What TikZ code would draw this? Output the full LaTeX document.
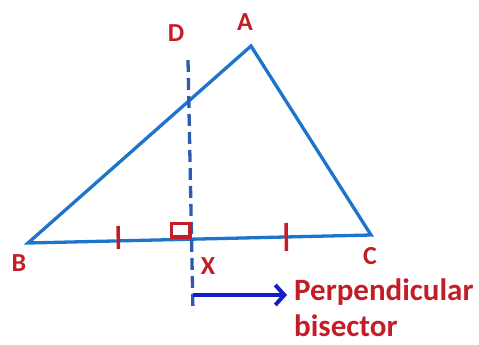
\documentclass[tikz,border=0pt]{standalone}
\usepackage{fontspec}
\setmainfont{Carlito}
\usetikzlibrary{arrows.meta}
\definecolor{triblue}{RGB}{30,115,205}
\definecolor{dashblue}{RGB}{45,90,180}
\definecolor{arrblue}{RGB}{20,30,200}
\definecolor{markred}{RGB}{195,30,40}
\begin{document}
\begin{tikzpicture}[x=1pt,y=-1pt,
  side/.style={draw=triblue,line width=3.3pt,line join=miter},
  bisline/.style={draw=dashblue,line width=3.3pt,dash pattern=on 12pt off 6pt},
  tickmark/.style={draw=markred,line width=3.5pt},
  lbl/.style={font=\bfseries\fontsize{26}{30}\selectfont,text=markred,inner sep=0pt},
  note/.style={font=\bfseries\fontsize{31}{36}\selectfont,text=markred,anchor=base west,inner sep=0pt},
  arr/.style={draw=arrblue,line width=4pt,-{Straight Barb[length=9pt,width=20pt,line width=4pt]}}]
  \useasboundingbox (0,0) rectangle (479,345);
  % triangle and foot of the bisector
  \coordinate (A) at (251,46);
  \coordinate (B) at (28,243);
  \coordinate (C) at (371,235);
  \coordinate (X) at (191.5,239.2);
  \coordinate (D) at (188,60);
  \coordinate (E) at (193,312);
  \coordinate (P) at (192.6,295);
  \draw[side] (B) -- (A) -- (C) -- cycle;
  \draw[bisline] (D) -- (E);
  % equal parts and right angle
  \draw[tickmark] (118,226) -- (118.5,249);
  \draw[tickmark] (286,223) -- (286.5,251);
  \draw[markred,line width=3.5pt] (171.5,223.5) rectangle (190,237);
  % labels
  \node[lbl] (lA) at (245,22) {A};
  \node[lbl] (lD) at (176,33) {D};
  \node[lbl] (lB) at (19,263) {B};
  \node[lbl] (lX) at (208,266) {X};
  \node[lbl] (lC) at (370,256) {C};
  \node[note] (perp) at (294,300) {Perpendicular};
  \node[note] (bis) at (294,336) {bisector};
  \draw[arr,shorten >=7pt] (P) -- (P -| perp.west);
\end{tikzpicture}
\end{document}
